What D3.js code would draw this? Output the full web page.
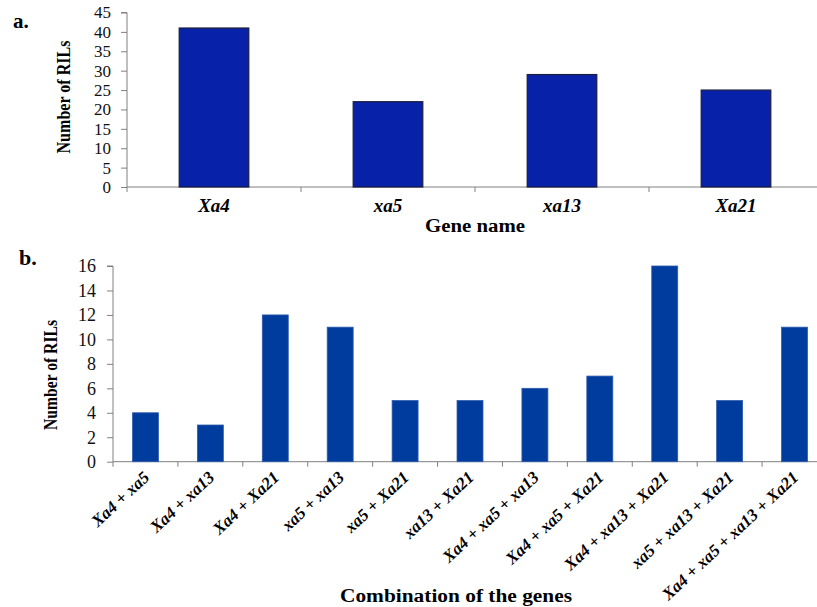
<!DOCTYPE html>
<html>
<head>
<meta charset="utf-8">
<script src="https://cdn.jsdelivr.net/npm/d3@7"></script>
<style>
  body { margin: 0; background: #fff; }
  svg { display: block; font-family: "Liberation Serif", "Times New Roman", serif; }
  .axis path, .axis line { stroke: #808080; }
</style>
</head>
<body>
<div id="chart"></div>
<script>
const serif = "'Liberation Serif', 'Times New Roman', serif";

// panel a: single genes
const genes = ["Xa4", "xa5", "xa13", "Xa21"];
const geneCounts = [41, 22, 29, 25];
const geneTicks = [0, 5, 10, 15, 20, 25, 30, 35, 40, 45];

// panel b: gene combinations
const combos = [
    ["Xa4", "xa5"],
    ["Xa4", "xa13"],
    ["Xa4", "Xa21"],
    ["xa5", "xa13"],
    ["xa5", "Xa21"],
    ["xa13", "Xa21"],
    ["Xa4", "xa5", "xa13"],
    ["Xa4", "xa5", "Xa21"],
    ["Xa4", "xa13", "Xa21"],
    ["xa5", "xa13", "Xa21"],
    ["Xa4", "xa5", "xa13", "Xa21"]
];
const comboCounts = [4, 3, 12, 11, 5, 5, 6, 7, 16, 5, 11];
const comboTicks = [0, 2, 4, 6, 8, 10, 12, 14, 16];

const width = 817, height = 607;

const svg = d3.select("#chart").append("svg")
    .attr("width", width)
    .attr("height", height);

// ---------- panel a ----------
let xa = d3.scaleBand()
    .domain(genes)
    .range([127, 823])
    .paddingInner(0.6)
    .paddingOuter(0.3);

let ya = d3.scaleLinear()
    .domain([0, 45])
    .range([187, 12.5]);

let gA = svg.append("g");

gA.append("g")
    .attr("class", "axis")
    .attr("transform", "translate(127,0)")
    .call(d3.axisLeft(ya).tickValues(geneTicks).tickSize(6).tickPadding(10))
    .attr("font-family", serif)
    .call(g => g.selectAll("text").attr("font-size", 17).attr("fill", "#111").style("font-family", serif))
    .call(g => g.select(".domain").attr("d", "M-6,12.5H0V187"));

// x axis line with ticks at category boundaries
gA.append("line")
    .attr("x1", 127).attr("x2", 823)
    .attr("y1", ya(0)).attr("y2", ya(0))
    .attr("stroke", "#808080");

gA.selectAll(".xtick")
    .data(d3.range(genes.length + 1))
    .enter().append("line")
    .attr("x1", i => 127 + i * xa.step())
    .attr("x2", i => 127 + i * xa.step())
    .attr("y1", ya(0))
    .attr("y2", ya(0) + 5)
    .attr("stroke", "#808080");

gA.selectAll(".bar")
    .data(genes)
    .enter().append("rect")
    .attr("x", d => xa(d))
    .attr("width", xa.bandwidth())
    .attr("y", (d, i) => ya(geneCounts[i]))
    .attr("height", (d, i) => ya(0) - ya(geneCounts[i]))
    .attr("fill", "#0722A8")
    .attr("stroke", "#1c1c3c")
    .attr("stroke-width", 1.2);

gA.selectAll(".glabel")
    .data(genes)
    .enter().append("text")
    .attr("x", d => xa(d) + xa.bandwidth() / 2)
    .attr("y", 212)
    .attr("text-anchor", "middle")
    .attr("font-size", 19)
    .attr("font-weight", "bold")
    .attr("font-style", "italic")
    .text(d => d);

gA.append("text")
    .attr("x", 475)
    .attr("y", 232)
    .attr("text-anchor", "middle")
    .attr("font-size", 18)
    .attr("font-weight", "bold")
    .attr("textLength", 100)
    .attr("lengthAdjust", "spacingAndGlyphs")
    .text("Gene name");

gA.append("text")
    .attr("transform", "translate(70,97) rotate(-90)")
    .attr("text-anchor", "middle")
    .attr("font-size", 19)
    .attr("font-weight", "bold")
    .attr("textLength", 113)
    .attr("lengthAdjust", "spacingAndGlyphs")
    .text("Number of RILs");

gA.append("text")
    .attr("x", 13).attr("y", 28)
    .attr("font-size", 21)
    .attr("font-weight", "bold")
    .text("a.");

// ---------- panel b ----------
let comboNames = combos.map(c => c.join(" + "));

let xb = d3.scaleBand()
    .domain(comboNames)
    .range([113, 827])
    .paddingInner(0.6)
    .paddingOuter(0.3);

let yb = d3.scaleLinear()
    .domain([0, 16])
    .range([461.7, 266]);

let gB = svg.append("g");

gB.append("g")
    .attr("class", "axis")
    .attr("transform", "translate(113,0)")
    .call(d3.axisLeft(yb).tickValues(comboTicks).tickSize(6).tickPadding(11))
    .attr("font-family", serif)
    .call(g => g.selectAll("text").attr("font-size", 18).attr("fill", "#111").style("font-family", serif))
    .call(g => g.select(".domain").attr("d", "M-6,266H0V461.7"));

gB.append("line")
    .attr("x1", 113).attr("x2", 827)
    .attr("y1", yb(0)).attr("y2", yb(0))
    .attr("stroke", "#808080");

gB.selectAll(".xtick")
    .data(d3.range(combos.length + 1))
    .enter().append("line")
    .attr("x1", i => 113 + i * xb.step())
    .attr("x2", i => 113 + i * xb.step())
    .attr("y1", yb(0))
    .attr("y2", yb(0) + 5)
    .attr("stroke", "#808080");

gB.selectAll(".bar")
    .data(comboNames)
    .enter().append("rect")
    .attr("x", d => xb(d))
    .attr("width", xb.bandwidth())
    .attr("y", (d, i) => yb(comboCounts[i]))
    .attr("height", (d, i) => yb(0) - yb(comboCounts[i]))
    .attr("fill", "#003C9E")
    .attr("stroke", "#2f5cae")
    .attr("stroke-width", 0.8);

let labels = gB.selectAll(".clabel")
    .data(combos)
    .enter().append("text")
    .attr("transform", (d, i) => `translate(${xb(comboNames[i]) + xb.bandwidth() / 2 + 5},${yb(0) + 17}) rotate(-43)`)
    .attr("text-anchor", "end")
    .attr("font-size", 17)
    .attr("font-weight", "bold");

labels.each(function (d) {
    let t = d3.select(this);
    d.forEach((gene, j) => {
        if (j > 0) t.append("tspan").text(" + ");
        t.append("tspan").attr("font-style", "italic").text(gene);
    });
});

gB.append("text")
    .attr("x", 456)
    .attr("y", 602)
    .attr("text-anchor", "middle")
    .attr("font-size", 18)
    .attr("font-weight", "bold")
    .attr("textLength", 232)
    .attr("lengthAdjust", "spacingAndGlyphs")
    .text("Combination of the genes");

gB.append("text")
    .attr("transform", "translate(57,375) rotate(-90)")
    .attr("text-anchor", "middle")
    .attr("font-size", 19)
    .attr("font-weight", "bold")
    .attr("textLength", 110)
    .attr("lengthAdjust", "spacingAndGlyphs")
    .text("Number of RILs");

gB.append("text")
    .attr("x", 19).attr("y", 265)
    .attr("font-size", 22)
    .attr("font-weight", "bold")
    .text("b.");
</script>
</body>
</html>
